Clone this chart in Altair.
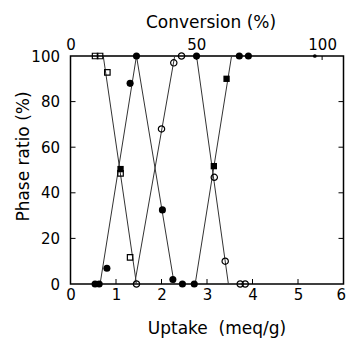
import altair as alt
import pandas as pd

# ---- data ----
open_sq_x = [0.54, 0.65, 0.81, 1.10, 1.31]
open_sq_y = [100, 100, 92.8, 48.5, 11.7]

fill_sq_x = [1.10, 3.15, 3.43]
fill_sq_y = [50.4, 51.7, 90]

fill_ci_x = [0.54, 0.63, 0.80, 1.31, 1.45, 2.02, 2.25, 2.46, 2.72, 2.77, 3.71, 3.91]
fill_ci_y = [0, 0, 6.9, 88, 100, 32.5, 2, 0, 0, 100, 100, 100]

small_x = [5.37]
small_y = [100]

open_ci_x = [1.45, 2.00, 2.27, 2.44, 3.16, 3.40, 3.73, 3.84]
open_ci_y = [0, 68, 97, 100, 46.8, 10, 0, 0]

# straight hand-drawn segments (start, end)
seg_id = ["a", "a", "b", "b", "c", "c", "d", "d", "e", "e", "f", "f", "g", "g"]
seg_x = [0.72, 1.45, 0.65, 1.45, 1.45, 2.28, 1.41, 2.29, 2.77, 3.47, 2.74, 3.54, 0.5, 5.45]
seg_y = [100, 0, 0, 100, 100, 0, 0, 100, 100, 0, 0, 100, 100, 100]

x_ticks = [1, 2, 3, 4, 5]
y_ticks = [20, 40, 60, 80]
x_labels = [0, 1, 2, 3, 4, 5, 6]
y_labels = [0, 20, 40, 60, 80, 100]
conv_labels = [0, 50, 100]
conv_max = 108.5  # conversion value at uptake 6

W, H = 273, 228
FONT = "DejaVu Sans"

xs = alt.Scale(domain=[0, 6], nice=False, zero=False)
ys = alt.Scale(domain=[0, 100], nice=False)

x_axis = alt.Axis(values=x_labels, tickSize=0, domain=False, grid=False,
                  labelFontSize=15, labelPadding=3, labelColor="black",
                  labelAlign=alt.ExprRef(expr="datum.value == 6 ? 'right' : 'center'"),
                  labelOffset=alt.ExprRef(expr="datum.value == 6 ? 2 : 0"),
                  title="Uptake\u00a0\u00a0(meq/g)", titleFontSize=17, titleFontWeight="normal",
                  titleX=146, titleY=44, titleBaseline="middle", titleColor="black",
                  labelFlush=False)
y_axis = alt.Axis(values=y_labels, tickSize=0, domain=False, grid=False,
                  labelFontSize=15, labelPadding=11, labelColor="black",
                  title="Phase ratio (%)", titleFontSize=17, titleFontWeight="normal",
                  titleX=-47, titleY=100, titleAngle=-90, titleBaseline="middle",
                  titleColor="black")

lines_df = pd.DataFrame({"seg": seg_id, "x": seg_x, "y": seg_y})
lines = alt.Chart(lines_df).mark_line(color="#333333", strokeWidth=1).encode(
    x=alt.X("x:Q", scale=xs, axis=x_axis),
    y=alt.Y("y:Q", scale=ys, axis=y_axis),
    detail="seg:N",
)

def pts(xv, yv, shape, filled, size):
    df = pd.DataFrame({"x": xv, "y": yv})
    m = alt.Chart(df).mark_point(shape=shape, filled=filled, size=size,
                                 color="black", opacity=1,
                                 strokeWidth=1.2)
    return m.encode(x=alt.X("x:Q", scale=xs), y=alt.Y("y:Q", scale=ys))

p_open_sq = pts(open_sq_x, open_sq_y, "square", False, 30)
p_fill_sq = pts(fill_sq_x, fill_sq_y, "square", True, 40)
p_fill_ci = pts(fill_ci_x, fill_ci_y, "circle", True, 50)
p_small = pts(small_x, small_y, "circle", True, 14)
p_open_ci = pts(open_ci_x, open_ci_y, "circle", False, 40)

# inward ticks
bt = alt.Chart(pd.DataFrame({"x": x_ticks})).mark_rule(color="black", strokeWidth=1).encode(
    x=alt.X("x:Q", scale=xs), y=alt.value(H), y2=alt.value(H - 5))
lt = alt.Chart(pd.DataFrame({"y": y_ticks})).mark_rule(color="black", strokeWidth=1).encode(
    y=alt.Y("y:Q", scale=ys), x=alt.value(0), x2=alt.value(5))
rt = alt.Chart(pd.DataFrame({"y": y_ticks})).mark_rule(color="black", strokeWidth=1).encode(
    y=alt.Y("y:Q", scale=ys), x=alt.value(W), x2=alt.value(W - 5))

base = alt.layer(lines, bt, lt, rt, p_open_sq, p_fill_sq, p_fill_ci, p_small, p_open_ci)

top = alt.Chart(pd.DataFrame({"c": conv_labels})).mark_rule(color="black", strokeWidth=1).encode(
    x=alt.X("c:Q", scale=alt.Scale(domain=[0, conv_max], nice=False, zero=False),
            axis=alt.Axis(orient="top", values=conv_labels, tickSize=0, domain=False,
                          grid=False, labelFontSize=15, labelPadding=4, labelColor="black",
                          title="Conversion (%)", titleFontSize=17, titleFontWeight="normal",
                          titleX=140, titleY=-34, titleBaseline="middle", titleColor="black",
                          labelFlush=False)),
    y=alt.value(0), y2=alt.value(4),
)

chart = alt.layer(base, top).resolve_scale(x="independent").properties(
    width=W, height=H,
    padding={"left": 70.5, "top": 56, "right": 2.5, "bottom": 55},
    autosize=alt.AutoSizeParams(type="none"),
).configure(font=FONT).configure_view(stroke="black", strokeWidth=1.5)

chart.save("out.html", embed_options={"renderer": "svg", "actions": False})
